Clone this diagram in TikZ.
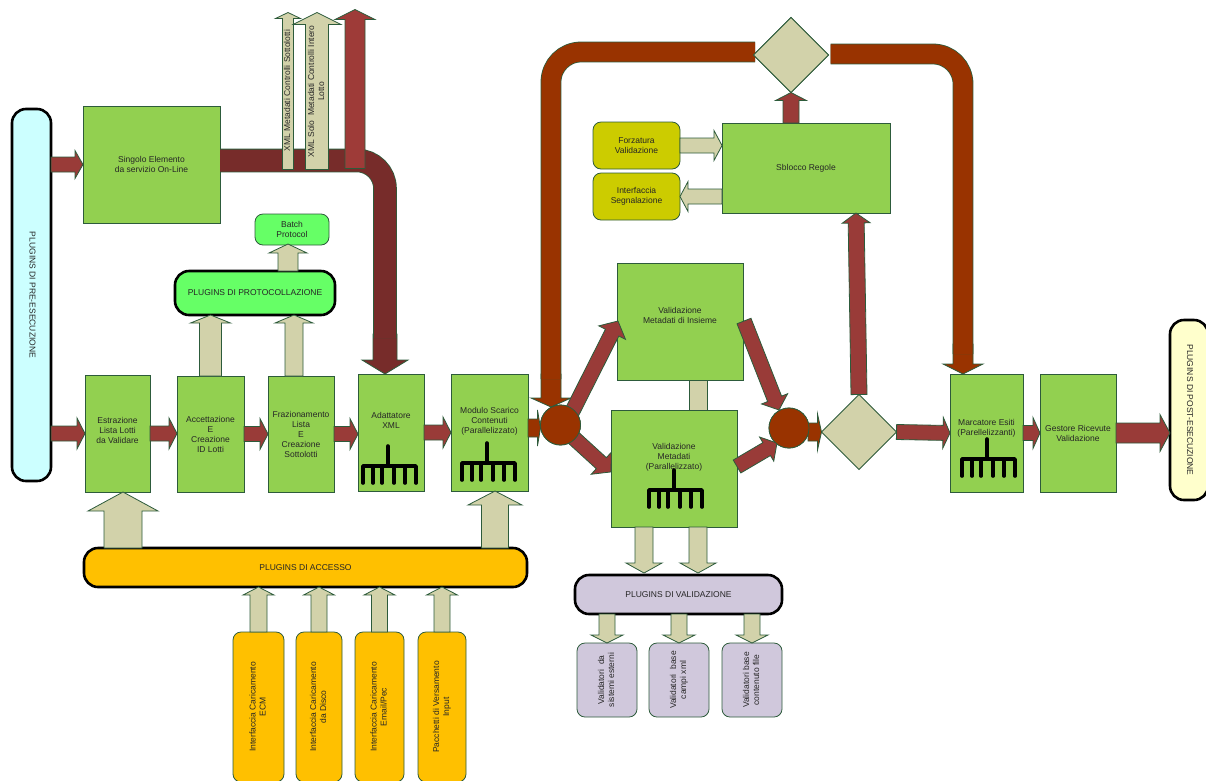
\documentclass[tikz,border=0pt]{standalone}
\usepackage{fontspec}
\setmainfont{Liberation Sans}
\usetikzlibrary{calc,shapes.geometric}
\definecolor{edgec}{HTML}{2D5B3B}
\definecolor{leaf}{HTML}{92D050}
\definecolor{brick}{HTML}{993B38}
\definecolor{brickl}{HTML}{9E3B38}
\definecolor{maroon}{HTML}{772C2A}
\definecolor{rust}{HTML}{993300}
\definecolor{sand}{HTML}{D2D2AA}
\definecolor{cyanp}{HTML}{CCFFFF}
\definecolor{yellowp}{HTML}{FFFFCC}
\definecolor{lilac}{HTML}{D0C8DC}
\definecolor{amber}{HTML}{FFC000}
\definecolor{olive2}{HTML}{CCCC00}
\definecolor{lime2}{HTML}{66FF66}
\tikzset{
  every node/.style={font=\fontsize{8.5}{10}\selectfont,text=black!85,align=center,inner sep=0pt,outer sep=0pt},
  base/.style={draw=edgec,line width=0.8pt},
  gbox/.style={base,fill=leaf,shape=rectangle},
  soft/.style={base,shape=rectangle,rounded corners=8pt},
  heavy/.style={draw=black,line width=2.6pt,shape=rectangle,rounded corners=14pt},
  dia/.style={base,fill=sand,shape=diamond,aspect=1,minimum size=75pt},
  joint/.style={base,fill=rust,shape=circle,minimum size=40pt},
  sandarrow/.style={base,fill=sand},
  brickarrow/.style={base,fill=brick},
  rustarrow/.style={base,fill=rust},
  maroonarrow/.style={base,fill=maroon},
  rakeline/.style={draw=black,line width=3.6pt,line cap=round,line join=round},
  pipeline/.style={draw=edgec,line width=0.8pt,double distance=#1}
}
\newcommand{\bx}[7][]{%
  \pgfmathsetmacro\bcx{(#3+#5)/2}\pgfmathsetmacro\bcy{(#4+#6)/2}%
  \pgfmathsetmacro\bw{#5-#3}\pgfmathsetmacro\bh{#6-#4}%
  \node[#1,minimum width=\bw pt,minimum height=\bh pt] (#2) at (\bcx,\bcy) {#7};}
\newcommand{\barrow}[6]{%
  \coordinate (tmpA) at (#2);\coordinate (tmpB) at (#3);
  \path let \p1=($(tmpB)-(tmpA)$),\n1={atan2(\y1,\x1)},\n2={veclen(\x1,\y1)} in \pgfextra{\xdef\bang{\n1}\xdef\blen{\n2}};
  \draw[#1,shift={(tmpA)},rotate=\bang] (0,{-#4/2}) -- ({\blen-#6},{-#4/2}) -- ({\blen-#6},{-#5/2}) -- (\blen,0) -- ({\blen-#6},{#5/2}) -- ({\blen-#6},{#4/2}) -- (0,{#4/2}) -- cycle;}
\newcommand{\rake}[2]{%
  \draw[rakeline,shift={(#1,#2)}] (25,-20) -- (25,0) (0,17) -- (0,0) -- (53,0) -- (53,17) (10,0) -- (10,17) (19,0) -- (19,17) (31,0) -- (31,17) (42,0) -- (42,17);}
\newcommand{\rtu}[1]{\rotatebox{90}{\begin{tabular}{@{}c@{}}#1\end{tabular}}}
\newcommand{\rtd}[1]{\rotatebox{-90}{\begin{tabular}{@{}c@{}}#1\end{tabular}}}
\newcommand{\lift}[2]{\begin{tabular}{@{}c@{}}#2\\[#1]\end{tabular}}
\begin{document}
\begin{tikzpicture}[x=1pt,y=-1pt]
\useasboundingbox (0,0) rectangle (1206,780);
% large boxes
\bx[gbox]{sing}{83}{106}{220}{223}{Singolo Elemento\\da servizio On-Line}
\bx[gbox]{estr}{85}{375}{150}{492}{\lift{4pt}{Estrazione\\Lista Lotti\\da Validare}}
\bx[gbox]{acce}{177}{376}{244}{492}{Accettazione\\E\\Creazione\\ID Lotti}
\bx[gbox]{fraz}{268}{376}{334}{492}{Frazionamento\\Lista\\E\\Creazione\\Sottolotti}
\bx[gbox]{adat}{358}{374}{424}{491}{\lift{22pt}{Adattatore\\XML}}
\bx[gbox]{modu}{451}{374}{528}{491}{\lift{23pt}{Modulo Scarico\\Contenuti\\(Parallelizzato)}}
\bx[gbox]{insi}{617}{263}{743}{380}{\lift{10pt}{Validazione\\Metadati di Insieme}}
\bx[gbox]{vali}{611}{410}{737}{527}{\lift{22pt}{Validazione\\Metadati\\(Parallelizzato)}}
\bx[gbox]{sblo}{722}{123}{890}{213}{Sblocco Regole}
\bx[gbox]{marc}{950}{374}{1023}{492}{\lift{10pt}{Marcatore Esiti\\(Parellelizzanti)}}
\bx[gbox]{gest}{1040}{374}{1116}{492}{Gestore Ricevute\\Validazione}
% plugin bars
\bx[heavy,fill=cyanp]{pre}{12}{109}{51}{481}{\rtd{PLUGINS DI PRE-ESECUZIONE}}
\bx[heavy,fill=yellowp]{post}{1170}{320}{1208}{500}{\rtd{PLUGINS DI POST-ESECUZIONE}}
\bx[heavy,fill=lime2]{prot}{175}{271}{335}{315}{PLUGINS DI PROTOCOLLAZIONE}
\bx[heavy,fill=amber]{acc}{84}{548}{527}{587}{PLUGINS DI ACCESSO}
\bx[heavy,fill=lilac]{plva}{575}{575}{782}{614}{PLUGINS DI VALIDAZIONE}
% small boxes
\bx[soft,fill=lime2]{batc}{255}{214}{329}{245}{Batch\\Protocol}
\bx[soft,fill=olive2]{forz}{593}{122}{680}{169}{Forzatura\\Validazione}
\bx[soft,fill=olive2]{segn}{593}{173}{680}{220}{Interfaccia\\Segnalazione}
\bx[soft,fill=amber]{ecm}{233}{632}{284}{782}{\rtu{Interfaccia Caricamento\\ECM}}
\bx[soft,fill=amber]{disc}{296}{632}{342}{782}{\rtu{Interfaccia Caricamento\\da Disco}}
\bx[soft,fill=amber]{emai}{355}{632}{404}{782}{\rtu{Interfaccia Caricamento\\Email/Pec}}
\bx[soft,fill=amber]{pacc}{418}{632}{466}{782}{\rtu{Pacchetti di Versamento\\Input}}
\bx[soft,fill=lilac]{vest}{577}{643}{637}{717}{\rtu{Validatori\ \ da\\sistemi esterni}}
\bx[soft,fill=lilac]{vxml}{649}{643}{709}{717}{\rtu{Validatori\ \ base\\campi xml}}
\bx[soft,fill=lilac]{vfil}{722}{643}{782}{717}{\rtu{Validatori base\\contenuto file}}
% maroon pipe and the arrows on top of it
\barrow{maroonarrow}{$(adat.north)+(-6,-40)$}{$(adat.north)+(-6,0)$}{24}{46}{14}
\draw[pipeline=22pt,double=maroon,rounded corners=28pt] ($(sing.east)+(0,-4)$) -- ($(adat.north)+(-6,-213.5)$) -- ($(adat.north)+(-6,-36)$);
\coordinate (xmlA) at ($(sing.east)+(68,5)$);
\coordinate (xmlB) at ($(sing.east)+(97,5)$);
\coordinate (xmlC) at ($(sing.east)+(135,4)$);
\barrow{sandarrow}{xmlA}{$(xmlA)+(0,-157)$}{11}{25}{6}
\barrow{sandarrow}{xmlB}{$(xmlB)+(0,-157)$}{23}{48}{12}
\barrow{base,fill=brickl}{xmlC}{$(xmlC)+(0,-159)$}{20}{40}{10}
\node (xmlAt) at ($(xmlA)+(0,-79)$) {\rtu{XML Metadati Controlli Sottolotti}};
\node (xmlBt) at ($(xmlB)+(0,-78)$) {\rtu{XML Solo\ \ Metadati Controlli Intero\\Lotto}};
% pipes from the joint and to the marker
\barrow{rustarrow}{$(modu.north)+(61.5,0)$}{$(modu.north)+(61.5,33)$}{20}{40}{9}
\barrow{rustarrow}{$(marc.north)+(-23.5,-30)$}{$(marc.north)+(-23.5,0)$}{20}{40}{10}
% joints and diamonds
\node[dia] (d1) at (791,55) {};
\node[dia] (d2) at (859,432) {};
\node[joint] (j1) at (560.5,425) {};
\node[joint] (j2) at (789,428) {};
\draw[pipeline=19.2pt,double=rust,rounded corners=30pt] ($(d1.west)+(1.5,-3)$) -- ($(d1.west)+(-202.5,-3)$) -- ($(modu.north)+(61.5,5)$);
\draw[pipeline=19.2pt,double=rust,rounded corners=30pt] ($(d1.east)+(2,-1)$) -- ($(d1.east)+(134.5,-1)$) -- ($(marc.north)+(-23.5,-20)$);
\node[dia] at (d1) {};
% flow arrows
\barrow{brickarrow}{pre.east |- sing}{sing.west}{15}{28}{8}
\barrow{brickarrow}{pre.east |- estr}{estr.west}{15}{31}{8}
\barrow{brickarrow}{estr.east}{estr.east -| acce.west}{15}{31}{8}
\barrow{brickarrow}{acce.east}{fraz.west}{15}{31}{8}
\barrow{brickarrow}{fraz.east}{fraz.east -| adat.west}{15}{31}{8}
\barrow{brickarrow}{adat.east}{adat.east -| modu.west}{15}{31}{8}
\barrow{rustarrow}{$(modu.east)+(0,-4.5)$}{$(j1.west)+(0,3)$}{18}{36}{3}
\barrow{brickarrow}{$(j1.center)+(10,-10)$}{$(insi.west)+(1,-0.5)$}{15}{30}{13}
\barrow{brickarrow}{$(j1.center)+(10,10)$}{$(vali.west)+(0,3.5)$}{15}{30}{13}
\barrow{brickarrow}{$(vali.east)+(0,-2)$}{$(j2.center)+(-12,15)$}{15}{28}{12}
\barrow{brickarrow}{$(insi.east)+(1,-0.5)$}{$(j2.center)+(-10,-18)$}{15}{28}{12}
\barrow{rustarrow}{$(j2.east)+(-1,4)$}{d2.west}{18}{36}{4}
\barrow{brickarrow}{d2.north}{$(sblo.south)+(50,0)$}{16}{28}{10}
\barrow{brickarrow}{d2.east}{$(marc.west)+(0,0)$}{15}{31}{7}
\barrow{brickarrow}{marc.east}{gest.west}{15}{31}{7}
\barrow{brickarrow}{gest.east}{gest.east -| post.west}{20}{37}{10}
\barrow{brickarrow}{$(sblo.north)+(-15,0)$}{d1.south}{16}{31}{8}
\node[joint] at (j1) {};
\node[joint] at (j2) {};
% sand arrows
\barrow{sandarrow}{forz.east}{forz.east -| sblo.west}{15}{30}{8}
\barrow{sandarrow}{segn.east -| sblo.west}{segn.east}{15}{30}{8}
\barrow{sandarrow}{$(batc.south |- prot.north)+(-4,0)$}{$(batc.south)+(-4,-1)$}{20}{38}{9}
\barrow{sandarrow}{acce.north}{acce.north |- prot.south}{22}{40}{8}
\barrow{sandarrow}{$(fraz.north)+(-7,0)$}{$(fraz.north |- prot.south)+(-7,0)$}{18}{38}{8}
\barrow{sandarrow}{$(estr.south |- acc.north)+(5.5,0)$}{$(estr.south)+(5.5,0)$}{38}{70}{19}
\barrow{sandarrow}{$(modu.south |- acc.north)+(5.5,0)$}{$(modu.south)+(5.5,0)$}{27}{54}{14}
\barrow{sandarrow}{ecm.north}{ecm.north |- acc.south}{17}{31}{8}
\barrow{sandarrow}{disc.north}{disc.north |- acc.south}{16}{31}{8}
\barrow{sandarrow}{emai.north}{emai.north |- acc.south}{16}{31}{8}
\barrow{sandarrow}{pacc.north}{pacc.north |- acc.south}{16}{31}{8}
\barrow{sandarrow}{$(vali.south)+(-30,0)$}{$(vali.south |- plva.north)+(-30,-2)$}{18}{36}{10}
\barrow{sandarrow}{$(vali.south)+(24,0)$}{$(vali.south |- plva.north)+(24,-2)$}{18}{36}{10}
\barrow{sandarrow}{vest.north |- plva.south}{vest.north}{16}{32}{8}
\barrow{sandarrow}{vxml.north |- plva.south}{vxml.north}{16}{32}{8}
\barrow{sandarrow}{vfil.north |- plva.south}{vfil.north}{16}{32}{8}
\draw[sandarrow] ($(insi.south)+(9,0)$) rectangle ($(vali.north)+(33,0)$);
% rakes
\rake{363}{466}
\rake{462}{463}
\rake{962}{459}
\rake{649}{490}
\end{tikzpicture}
\end{document}
